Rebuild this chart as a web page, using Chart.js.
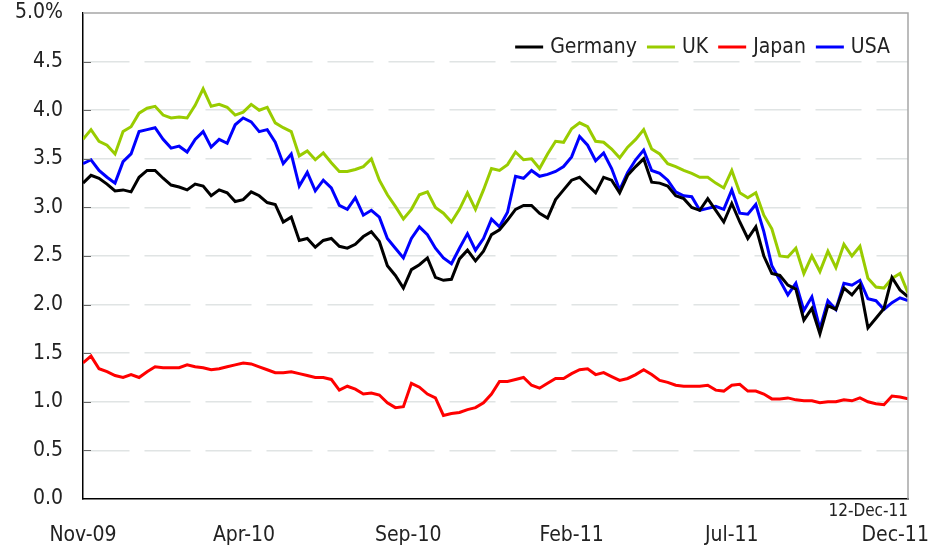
<!DOCTYPE html>
<html>
<head>
<meta charset="utf-8">
<script src="https://cdn.jsdelivr.net/npm/chart.js@4.4.1/dist/chart.umd.min.js"></script>
<style>
  html, body { margin: 0; padding: 0; background: #fff; }
  .chart { width: 948px; height: 552px; }
</style>
</head>
<body>
<div class="chart">
    <canvas id="yields" width="948" height="552"></canvas>
</div>

<script>
// 10y government bond yields, roughly weekly readings, Nov-09 .. 12-Dec-11
const germany = [3.25,3.33,3.30,3.24,3.17,3.18,3.16,3.31,3.38,3.38,3.30,3.23,3.21,3.18,3.24,3.22,3.12,3.18,
    3.15,3.06,3.08,3.16,3.12,3.05,3.03,2.85,2.90,2.66,2.68,2.59,2.66,2.68,2.60,2.58,2.62,2.70,
    2.75,2.65,2.40,2.30,2.17,2.36,2.41,2.48,2.28,2.25,2.26,2.47,2.56,2.45,2.55,2.72,2.77,
    2.87,2.98,3.02,3.02,2.94,2.89,3.08,3.18,3.28,3.31,3.23,3.15,3.31,3.28,3.15,3.33,3.42,3.50,
    3.26,3.25,3.22,3.12,3.09,3.00,2.97,3.09,2.97,2.85,3.04,2.85,2.68,2.80,2.50,2.32,2.30,
    2.20,2.16,1.84,1.96,1.70,1.99,1.95,2.17,2.10,2.20,1.76,1.86,1.96,2.28,2.15,2.08];
const uk = [3.70,3.80,3.68,3.64,3.55,3.78,3.83,3.97,4.02,4.04,3.95,3.92,3.93,3.92,4.05,4.22,4.04,4.06,
    4.03,3.95,3.98,4.06,4.00,4.03,3.87,3.82,3.78,3.53,3.58,3.49,3.56,3.46,3.37,3.37,3.39,3.42,
    3.50,3.28,3.13,3.01,2.88,2.98,3.13,3.16,3.00,2.94,2.85,2.98,3.15,2.98,3.18,3.40,3.38,
    3.44,3.57,3.49,3.50,3.40,3.55,3.68,3.67,3.81,3.87,3.83,3.68,3.67,3.60,3.51,3.62,3.70,3.80,
    3.60,3.55,3.45,3.42,3.38,3.35,3.31,3.31,3.25,3.20,3.38,3.15,3.10,3.15,2.92,2.78,2.50,
    2.49,2.58,2.32,2.50,2.34,2.55,2.38,2.62,2.50,2.60,2.27,2.18,2.17,2.27,2.32,2.12];
const japan = [1.40,1.47,1.34,1.31,1.27,1.25,1.28,1.25,1.31,1.36,1.35,1.35,1.35,1.38,1.36,1.35,1.33,1.34,
    1.36,1.38,1.40,1.39,1.36,1.33,1.30,1.30,1.31,1.29,1.27,1.25,1.25,1.23,1.12,1.16,1.13,1.08,
    1.09,1.07,0.99,0.94,0.95,1.19,1.15,1.08,1.04,0.86,0.88,0.89,0.92,0.94,0.99,1.08,1.21,
    1.21,1.23,1.25,1.17,1.14,1.19,1.24,1.24,1.29,1.33,1.34,1.28,1.30,1.26,1.22,1.24,1.28,1.33,
    1.28,1.22,1.20,1.17,1.16,1.16,1.16,1.17,1.12,1.11,1.17,1.18,1.11,1.11,1.08,1.03,1.03,
    1.04,1.02,1.01,1.01,0.99,1.00,1.00,1.02,1.01,1.04,1.00,0.98,0.97,1.06,1.05,1.03];
const usa = [3.45,3.49,3.38,3.31,3.25,3.47,3.55,3.78,3.80,3.82,3.70,3.61,3.63,3.57,3.70,3.78,3.62,3.70,
    3.66,3.85,3.92,3.88,3.78,3.80,3.67,3.45,3.55,3.22,3.36,3.17,3.28,3.20,3.02,2.98,3.10,2.92,
    2.97,2.90,2.68,2.58,2.48,2.68,2.80,2.72,2.58,2.48,2.42,2.58,2.73,2.56,2.68,2.88,2.80,
    2.95,3.32,3.30,3.38,3.32,3.34,3.37,3.42,3.52,3.73,3.64,3.48,3.56,3.40,3.18,3.36,3.49,3.59,
    3.38,3.35,3.28,3.16,3.12,3.11,2.97,2.99,3.01,2.98,3.18,2.94,2.93,3.03,2.75,2.40,2.25,
    2.10,2.22,1.94,2.08,1.75,2.04,1.95,2.22,2.20,2.25,2.06,2.04,1.95,2.02,2.07,2.04];

// x axis month labels and where they fall on the weekly index
const monthLabels = ['Nov-09', 'Apr-10', 'Sep-10', 'Feb-11', 'Jul-11', 'Dec-11'];
const monthWeeks = [0, 20.1, 40.6, 61, 81, 101.4];
const lastDate = '12-Dec-11';

const weeks = germany.map((v, i) => i);
const FONT = "'DejaVu Sans Condensed', 'Liberation Sans', sans-serif";
const TEXT = '#222';

// gray frame top/right, small inner ticks on y axis, legend in the corner, last date note
const frame = {
    id: 'frame',
    afterDraw(chart) {
        const {ctx, chartArea: a, scales} = chart;
        ctx.save();
        ctx.strokeStyle = '#a6a6a6';
        ctx.lineWidth = 1.5;
        ctx.beginPath();
        ctx.moveTo(a.left, a.top);
        ctx.lineTo(a.right, a.top);
        ctx.lineTo(a.right, a.bottom);
        ctx.stroke();

        ctx.strokeStyle = '#666';
        ctx.lineWidth = 1;
        scales.y.ticks.forEach(t => {
            if (t.value <= 0 || t.value >= 5) return;
            const y = Math.round(scales.y.getPixelForValue(t.value)) + 0.5;
            ctx.beginPath();
            ctx.moveTo(a.left, y);
            ctx.lineTo(a.left + 8, y);
            ctx.stroke();
        });

        // legend
        ctx.font = '21px ' + FONT;
        ctx.textBaseline = 'middle';
        ctx.textAlign = 'left';
        const sets = chart.data.datasets;
        const lineLen = 28, gap = 7, between = 10;
        const widths = sets.map(d => ctx.measureText(d.label).width);
        let total = widths.reduce((s, w) => s + lineLen + gap + w, 0) + between * (sets.length - 1);
        let x = a.right - 18 - total;
        const ly = a.top + 34;
        sets.forEach((d, i) => {
            ctx.strokeStyle = d.borderColor;
            ctx.lineWidth = 3;
            ctx.beginPath();
            ctx.moveTo(x, ly);
            ctx.lineTo(x + lineLen, ly);
            ctx.stroke();
            ctx.fillStyle = TEXT;
            ctx.fillText(d.label, x + lineLen + gap, ly + 1);
            x += lineLen + gap + widths[i] + between;
        });

        ctx.fillStyle = TEXT;
        ctx.font = '17px ' + FONT;
        ctx.textAlign = 'right';
        ctx.textBaseline = 'alphabetic';
        ctx.fillText(lastDate, a.right, a.bottom + 17);
        ctx.restore();
    }
};

const line = (label, data, color) => ({
    label: label,
    data: data,
    borderColor: color,
    backgroundColor: color,
    borderWidth: 3,
    pointRadius: 0,
    tension: 0,
    fill: false
});

const ctx = document.getElementById('yields').getContext('2d');
const chart = new Chart(ctx, {
    type: 'line',
    data: {
        labels: weeks,
        datasets: [
            line('Germany', germany, '#000000'),
            line('UK', uk, '#99cc00'),
            line('Japan', japan, '#ff0000'),
            line('USA', usa, '#0000ff')
        ]
    },
    options: {
        responsive: false,
        animation: false,
        layout: { padding: { left: 0, right: 40, top: 13, bottom: 0 } },
        plugins: {
            tooltip: { enabled: false },
            legend: { display: false }
        },
        scales: {
            x: {
                type: 'linear',
                min: 0,
                max: germany.length - 1,
                afterBuildTicks: axis => {
                    axis.ticks = monthWeeks.map(v => ({ value: v }));
                },
                afterFit: axis => {
                    axis.paddingLeft = 0;
                    axis.paddingRight = 0;
                    axis.height = 53;
                },
                grid: { drawOnChartArea: false, drawTicks: false },
                border: { color: '#000', width: 1.5 },
                ticks: {
                    autoSkip: false,
                    maxRotation: 0,
                    padding: 24,
                    color: TEXT,
                    font: { family: FONT, size: 21 },
                    callback: (v, i) => monthLabels[i]
                }
            },
            y: {
                min: 0,
                max: 5,
                afterFit: axis => {
                    axis.paddingTop = 0;
                    axis.paddingBottom = 0;
                    axis.width = 83;
                },
                grid: {
                    drawTicks: false,
                    lineWidth: 1.5,
                    color: c => (c.tick.value === 0 || c.tick.value === 5) ? 'rgba(0,0,0,0)' : '#e0e4e4'
                },
                border: { color: '#000', width: 1.5, dash: [46, 15] },
                ticks: {
                    stepSize: 0.5,
                    padding: 20,
                    color: TEXT,
                    font: { family: FONT, size: 21 },
                    callback: v => v === 5 ? '5.0%' : v.toFixed(1)
                }
            }
        }
    },
    plugins: [frame]
});
</script>
</body>
</html>
